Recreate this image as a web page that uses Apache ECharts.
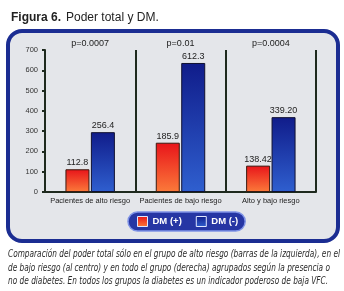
<!DOCTYPE html>
<html>
<head>
<meta charset="utf-8">
<script src="https://cdn.jsdelivr.net/npm/echarts@6/dist/echarts.min.js"></script>
<style>
  html, body { margin: 0; padding: 0; background: #fff; }
  #chart { width: 344px; height: 291px; }
</style>
</head>
<body>
<div id="chart"></div>
<script>
// categorias y valores
const categories = ['Pacientes de alto riesgo', 'Pacientes de bajo riesgo', 'Alto y bajo riesgo']
const pValues = ['p=0.0007', 'p=0.01', 'p=0.0004']
// altura de las barras tal como aparecen dibujadas
const dmPos = [112, 243, 130]
const dmNeg = [295, 636, 369]
// rotulos impresos sobre las barras
const dmPosLabels = ['112.8', '185.9', '138.42']
const dmNegLabels = ['256.4', '612.3', '339.20']
const yTicks = [0, 100, 200, 300, 400, 500, 600, 700]

const caption = [
  'Comparación del poder total sólo en el grupo de alto riesgo (barras de la izquierda), en el',
  'de bajo riesgo (al centro) y en todo el grupo (derecha) agrupados según la presencia o',
  'no de diabetes. En todos los grupos la diabetes es un indicador poderoso de baja VFC.'
]

const chart = echarts.init(document.getElementById('chart'))

// ancho del texto para ajustar la leyenda de abajo al ancho del recuadro
const captionFont = 'italic 10.5px "DejaVu Sans"'
const ctx = document.createElement('canvas').getContext('2d')
ctx.font = captionFont
const captionScale = 332 / ctx.measureText(caption[0]).width

const redFill = new echarts.graphic.LinearGradient(0, 0, 0, 1, [
  { offset: 0, color: '#e8141a' },
  { offset: 1, color: '#fb7a3a' }
])
const blueFill = new echarts.graphic.LinearGradient(0, 0, 0, 1, [
  { offset: 0, color: '#101c8a' },
  { offset: 1, color: '#2f5fcf' }
])

const option = {
  backgroundColor: '#fff',
  animation: false,
  title: {
    text: '{b|Figura 6.} {n|Poder total y DM.}',
    left: 6,
    top: 4,
    textStyle: {
      fontWeight: 'normal',
      rich: {
        b: { fontFamily: 'Liberation Sans', fontWeight: 'bold', fontSize: 12, color: '#222' },
        n: { fontFamily: 'Liberation Sans', fontWeight: 'normal', fontSize: 12, color: '#222' }
      }
    }
  },
  graphic: [
    {
      type: 'rect',
      z: -10,
      shape: { x: 8, y: 31, width: 330, height: 210, r: 14 },
      style: { fill: '#e4e6ea', stroke: '#1b2d92', lineWidth: 4 }
    },
    ...caption.map((t, i) => ({
      type: 'text',
      x: 8,
      y: 249 + i * 13.5,
      scaleX: captionScale,
      style: {
        text: t,
        font: captionFont,
        fill: '#2a2a2a'
      }
    }))
  ],
  legend: {
    data: ['DM (+)', 'DM (-)'],
    left: 128,
    top: 212,
    icon: 'rect',
    itemWidth: 10,
    itemHeight: 10,
    itemGap: 14,
    padding: [4, 7, 4, 9],
    backgroundColor: '#2636a4',
    borderColor: '#7f93e6',
    borderWidth: 1.5,
    borderRadius: 11,
    itemStyle: { borderColor: '#dfe6ff', borderWidth: 1 },
    textStyle: { color: '#fff', fontWeight: 'bold', fontSize: 9.5, fontFamily: 'Liberation Sans' }
  },
  grid: { left: 45, right: 28, top: 50, bottom: 99 },
  xAxis: [
    {
      type: 'category',
      data: categories,
      axisLine: { lineStyle: { color: '#1e2a1e', width: 2 } },
      axisTick: { show: false },
      axisLabel: { interval: 0, color: '#222', fontSize: 7.5, margin: 5, fontFamily: 'Liberation Sans' },
      splitLine: { show: true, interval: 0, lineStyle: { color: '#1e2a1e', width: 2 } }
    },
    {
      type: 'category',
      position: 'top',
      data: pValues,
      axisLine: { show: false },
      axisTick: { show: false },
      axisLabel: { interval: 0, color: '#222', fontSize: 9, margin: 2, fontFamily: 'Liberation Sans' }
    }
  ],
  yAxis: {
    type: 'value',
    min: yTicks[0],
    max: yTicks[yTicks.length - 1],
    interval: 100,
    axisLine: { show: true, lineStyle: { color: '#1e2a1e', width: 2 } },
    axisTick: { show: true, length: 3, lineStyle: { color: '#1e2a1e', width: 2 } },
    axisLabel: { color: '#333', fontSize: 7.5, margin: 7, fontFamily: 'Liberation Sans' },
    splitLine: { show: false }
  },
  series: [
    {
      name: 'DM (+)',
      type: 'bar',
      data: dmPos,
      barWidth: 24,
      barGap: '6%',
      itemStyle: { color: redFill, borderColor: '#3a1a10', borderWidth: 1 },
      label: {
        show: true,
        position: 'top',
        distance: 2,
        color: '#222',
        fontSize: 9,
        fontFamily: 'Liberation Sans',
        formatter: p => dmPosLabels[p.dataIndex]
      }
    },
    {
      name: 'DM (-)',
      type: 'bar',
      data: dmNeg,
      barWidth: 24,
      itemStyle: { color: blueFill, borderColor: '#101030', borderWidth: 1 },
      label: {
        show: true,
        position: 'top',
        distance: 2,
        color: '#222',
        fontSize: 9,
        fontFamily: 'Liberation Sans',
        formatter: p => dmNegLabels[p.dataIndex]
      }
    }
  ]
}

chart.setOption(option)
</script>
</body>
</html>
